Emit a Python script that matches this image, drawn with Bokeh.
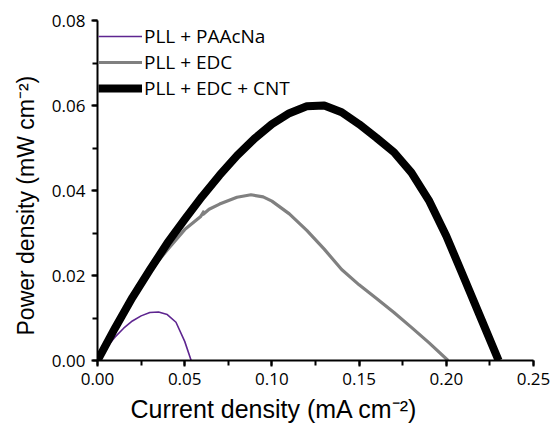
from bokeh.plotting import figure
from bokeh.models import Range1d, SingleIntervalTicker, NumeralTickFormatter, Legend, LegendItem, Title
from bokeh.embed import file_html
from bokeh.resources import INLINE

# PLL + PAAcNa
paa_x = [0, 0.005, 0.01, 0.015, 0.02, 0.025, 0.03, 0.035, 0.04, 0.045, 0.05, 0.0537]
paa_y = [0, 0.0030, 0.0055, 0.0076, 0.0093, 0.0105, 0.0113, 0.0114, 0.0108, 0.0090, 0.0045, 0.0]

# PLL + EDC
edc_x = [0, 0.01, 0.02, 0.03, 0.04, 0.05, 0.059, 0.0612, 0.0603, 0.064, 0.07, 0.08, 0.088,
         0.095, 0.10, 0.11, 0.12, 0.13, 0.14, 0.15, 0.16, 0.17, 0.18, 0.19, 0.201]
edc_y = [0, 0.0074, 0.0143, 0.0210, 0.0260, 0.0308, 0.0338, 0.0352, 0.0343, 0.0356, 0.0368, 0.0384, 0.0390,
         0.0385, 0.0375, 0.0345, 0.0306, 0.0262, 0.0214, 0.0178, 0.0146, 0.0113, 0.0078, 0.0042, 0.0]

# PLL + EDC + CNT
cnt_x = [0, 0.01, 0.02, 0.03, 0.04, 0.05, 0.06, 0.07, 0.08, 0.09, 0.10, 0.11, 0.12,
         0.13, 0.14, 0.15, 0.16, 0.17, 0.18, 0.19, 0.20, 0.21, 0.22, 0.23]
cnt_y = [0, 0.0076, 0.0148, 0.0213, 0.0276, 0.0332, 0.0386, 0.0436, 0.0482, 0.0522, 0.0556, 0.0582, 0.0598,
         0.0600, 0.0584, 0.0556, 0.0524, 0.0490, 0.0442, 0.0377, 0.0293, 0.0196, 0.0098, 0.0]

labels = ["PLL + PAAcNa", "PLL + EDC", "PLL + EDC + CNT"]
x_title = "Current density (mA cm\u207b\u00b2)"
y_title = "Power density (mW cm\u207b\u00b2)"

p = figure(width=551, height=429, output_backend="svg", toolbar_location=None,
           x_range=Range1d(0, 0.25), y_range=Range1d(0, 0.08),
           min_border_left=97, min_border_right=18, min_border_top=20, min_border_bottom=69)
p.outline_line_color = None
p.grid.visible = False
p.background_fill_color = "white"

r_edc = p.line(edc_x, edc_y, line_color="#808080", line_width=3.2)
r_paa = p.line(paa_x, paa_y, line_color="#5e2590", line_width=1.6)
r_cnt = p.line(cnt_x, cnt_y, line_color="black", line_width=8, line_join="round")

p.xaxis.ticker = SingleIntervalTicker(interval=0.05, num_minor_ticks=2)
p.yaxis.ticker = SingleIntervalTicker(interval=0.02, num_minor_ticks=2)
p.xaxis.formatter = NumeralTickFormatter(format="0.00")
p.yaxis.formatter = NumeralTickFormatter(format="0.00")

for ax in [p.xaxis[0], p.yaxis[0]]:
    ax.axis_line_width = 2
    ax.axis_line_color = "black"
    ax.major_tick_line_width = 2
    ax.minor_tick_line_width = 2
    ax.major_tick_in = 0
    ax.major_tick_out = 6
    ax.minor_tick_in = 0
    ax.minor_tick_out = 5
    ax.major_label_text_font = "Open Sans"
    ax.major_label_text_font_size = "17px"
    ax.major_label_text_color = "black"

p.xaxis.major_label_standoff = 6
p.yaxis.major_label_standoff = 6

# axis titles, placed as in the reference (slightly off-centre)
p.add_layout(Title(text=x_title, align="left", offset=33, standoff=10,
                   text_font="Liberation Sans", text_font_size="25px",
                   text_font_style="normal", text_color="black"), "below")
p.add_layout(Title(text=y_title, align="left", offset=25, standoff=20,
                   text_font="Liberation Sans", text_font_size="23px",
                   text_font_style="normal", text_color="black"), "left")

legend = Legend(items=[LegendItem(label=labels[0], renderers=[r_paa]),
                       LegendItem(label=labels[1], renderers=[r_edc]),
                       LegendItem(label=labels[2], renderers=[r_cnt])],
                location=(1, 259))
legend.border_line_color = None
legend.background_fill_alpha = 0
legend.padding = 0
legend.margin = 0
legend.spacing = 0
legend.glyph_width = 44
legend.glyph_height = 20
legend.label_height = 20
legend.label_standoff = 2
legend.label_text_font = "Open Sans"
legend.label_text_font_size = "19px"
legend.label_text_color = "black"
p.add_layout(legend, "center")

open("out.html", "w").write(file_html(p, INLINE))
